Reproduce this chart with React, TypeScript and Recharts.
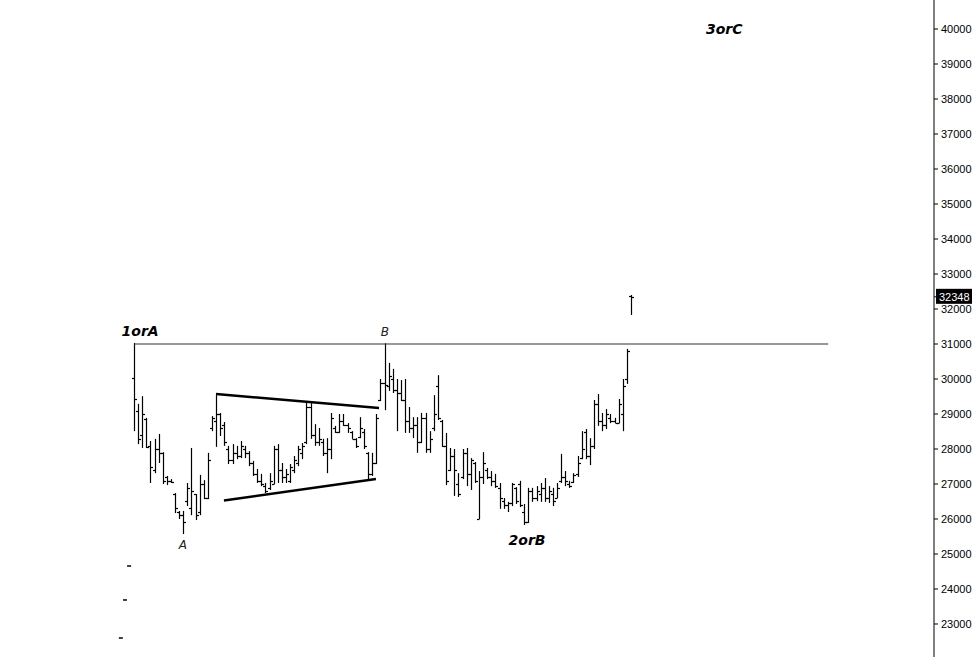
import {
  ComposedChart, Bar, Scatter, XAxis, YAxis, ReferenceLine,
} from 'recharts'

// weekly OHLC, bar index 0 = the 1orA top
const highs = [
  31030, 29290, 29510, 28890, 28230, 28290, 28430, 27910, 27230, 27140,
  26740, 26230, 26230, 27030, 28030, 26710, 27260, 27110, 27890, 28940,
  29540, 29030, 28770, 28090, 28140, 28090, 28230, 28090, 27940, 27660,
  27430, 27290, 27030, 27310, 28090, 28140, 27600, 27430, 27570, 27800,
  28090, 28170, 29340, 29310, 28710, 28600, 28290, 28310, 29030, 28660,
  29000, 29000, 28740, 28510, 28310, 28910, 28570, 27910, 27890, 29000,
  30000, 31020, 30460, 30290, 30000, 29970, 30000, 29200, 28910, 28910,
  29030, 29030, 28510, 29540, 30110, 28830, 28460, 28030, 28000, 27310,
  28000, 28030, 27740, 27630, 27370, 27910, 27460, 27370, 27290, 27030,
  26600, 26490, 27030, 26910, 27090, 26430, 26890, 26890, 26940, 27030,
  27170, 26940, 26890, 27030, 27860, 27370, 27090, 27310, 27800, 28510,
  28570, 28310, 29400, 29570, 29030, 29140, 29000, 28890, 29430, 30000,
  30860, 32400,
]
const lows = [
  28510, 28140, 28030, 28030, 27030, 27310, 27600, 27000, 26970, 27030,
  26170, 26000, 25570, 26370, 26110, 25970, 26110, 26570, 26570, 28510,
  28060, 28370, 28090, 27570, 27570, 27710, 27740, 27740, 27510, 27230,
  27030, 26940, 26740, 26830, 27000, 27030, 27030, 27030, 27030, 27310,
  27510, 27710, 28140, 28290, 28090, 28090, 27800, 27310, 27710, 28460,
  28460, 28660, 28460, 28290, 28030, 28310, 28000, 27090, 27230, 27570,
  29370, 29110, 29660, 29600, 28510, 29370, 28460, 28460, 28310, 27890,
  28170, 27890, 27890, 28510, 28830, 28060, 26970, 27370, 26660, 26630,
  27140, 26940, 26830, 27030, 26000, 27000, 27140, 26940, 26890, 26290,
  26290, 26200, 26370, 26430, 26340, 25830, 25890, 26490, 26510, 26490,
  26490, 26460, 26370, 26600, 27030, 26940, 26890, 27030, 27200, 27710,
  27710, 27540, 28000, 28660, 28510, 28570, 28740, 28740, 28740, 28510,
  29860, 31830,
]
const opens = [
  30030, 29100, 28400, 28850, 28100, 27400, 28000, 27900, 27200, 27100,
  26700, 26200, 26100, 26500, 26300, 26700, 26200, 27000, 26600, 28600,
  28800, 29000, 28700, 28000, 27700, 27900, 27800, 28000, 27900, 27600,
  27300, 27100, 26950, 26900, 27000, 28000, 27400, 27200, 27100, 27400,
  27600, 27900, 28200, 29200, 28400, 28200, 28200, 27900, 28000, 28600,
  28500, 28800, 28700, 28500, 28300, 28350, 28500, 27900, 27300, 27600,
  29400, 29900, 29800, 30000, 29700, 29600, 29400, 28800, 28600, 28700,
  28200, 28900, 28000, 28600, 29800, 28800, 28100, 27400, 27800, 27000,
  27200, 27900, 27300, 27600, 26000, 27200, 27400, 27200, 27100, 26900,
  26500, 26400, 26450, 26900, 27000, 26200, 25900, 26800, 26600, 26700,
  26900, 26600, 26700, 26600, 27100, 27200, 27000, 27050, 27300, 27750,
  28500, 27800, 28100, 29300, 28800, 28700, 28900, 28800, 28750, 29000,
  30000, 32380,
]
const closes = [
  29430, 28300, 29000, 28050, 27500, 28000, 27900, 27100, 27100, 27050,
  26300, 26100, 25900, 26900, 26800, 26100, 27000, 26600, 27700, 28900,
  29000, 28600, 28200, 27700, 27900, 27800, 28100, 27900, 27600, 27300,
  27100, 27000, 26800, 27100, 28000, 27400, 27200, 27300, 27500, 27700,
  28000, 28100, 29200, 28400, 28200, 28300, 27900, 28000, 28900, 28500,
  28800, 28700, 28600, 28300, 28100, 28600, 28100, 27300, 27600, 28900,
  29900, 29830, 30100, 29700, 29600, 29400, 28800, 28600, 28700, 28200,
  28900, 28000, 28300, 29000, 28900, 28100, 27100, 27800, 27400, 26700,
  27900, 27300, 27700, 27100, 27200, 27600, 27200, 27100, 26950, 26600,
  26400, 26450, 27000, 26500, 26400, 25900, 26800, 26600, 26800, 26900,
  26600, 26800, 26500, 26900, 27200, 27100, 26950, 27250, 27600, 28000,
  27800, 28100, 29300, 28800, 28700, 29000, 28800, 28750, 29300, 29800,
  30800, 32348,
]

const priceTicks = [
  23000, 24000, 25000, 26000, 27000, 28000, 29000, 30000, 31000,
  32000, 33000, 34000, 35000, 36000, 37000, 38000, 39000, 40000,
]
const lastPrice = 32348
const neckline = 31000

// wave labels
const noteText = ['1orA', 'B', 'A', '2orB', '3orC']
const noteX = [1.5, 61.1, 11.9, 95.7, 143.7]
const noteY = [31370, 31340, 25257, 25400, 40000]
const noteBold = [true, false, false, true, true]

// stray ticks left of the first bar
const stubX = [-1.2, -2.2, -3.2]
const stubY = [24657, 23686, 22600]

const rows = highs.map((h, i) => ({
  i, range: [lows[i], h], high: h, low: lows[i], open: opens[i], close: closes[i],
}))
const notes = noteText.map((t, k) => ({ i: noteX[k], y: noteY[k], text: t, bold: noteBold[k] }))
const stubs = stubX.map((x, k) => ({ i: x, y: stubY[k] }))

function OhlcBar(props: any) {
  const { x, y, width, height, payload } = props
  const top = Math.min(y, y + height)
  const bot = Math.max(y, y + height)
  const span = payload.high - payload.low || 1
  const cx = Math.round(x + width / 2) + 0.5
  const at = (v: number) => Math.round(top + ((payload.high - v) / span) * (bot - top)) + 0.5
  return (
    <g stroke="#000" strokeWidth={1.2}>
      <line x1={cx} x2={cx} y1={top} y2={bot} />
      <line x1={cx - 2.5} x2={cx} y1={at(payload.open)} y2={at(payload.open)} />
      <line x1={cx} x2={cx + 2.5} y1={at(payload.close)} y2={at(payload.close)} />
    </g>
  )
}

function Note(props: any) {
  const { cx, cy, payload } = props
  return (
    <text x={cx} y={cy} textAnchor="middle" dominantBaseline="central"
      fontFamily="DejaVu Sans" fontStyle="italic"
      fontWeight={payload.bold ? 'bold' : 'normal'}
      fontSize={payload.bold ? 14 : 12} fill={payload.bold ? '#000' : '#222'}>
      {payload.text}
    </text>
  )
}

function Stub(props: any) {
  const { cx, cy } = props
  return <line x1={cx - 2} x2={cx + 2} y1={cy} y2={cy} stroke="#000" strokeWidth={1.5} />
}

function PriceTag(props: any) {
  const vb = props.viewBox
  if (!vb) return null
  const x = vb.x + vb.width
  return (
    <g>
      <line x1={x} x2={x + 3} y1={vb.y} y2={vb.y} stroke="#000" />
      <rect x={x + 2} y={vb.y - 8} width={38} height={15} fill="#000" />
      <text x={x + 5} y={vb.y} dominantBaseline="central" fontSize={11}
        fontFamily="Liberation Sans" fill="#fff">{lastPrice}</text>
    </g>
  )
}

export default function App() {
  return (
    <div style={{ position: 'fixed', left: 0, top: 0, width: 972, height: 657, background: '#fff' }}>
      <ComposedChart width={972} height={657} data={rows}
        margin={{ top: 0, right: 0, bottom: 0, left: 0 }}>
        <XAxis dataKey="i" type="number" domain={[-32.624, 194.77]} hide allowDataOverflow />
        <YAxis orientation="right" type="number" domain={[22057, 40829]} ticks={priceTicks}
          width={38} allowDataOverflow axisLine={{ stroke: '#000' }}
          tickLine={{ stroke: '#000' }} tickSize={4} tickMargin={3}
          tick={{ fontSize: 11, fill: '#000', fontFamily: 'Liberation Sans', textAnchor: 'start' }} />
        <ReferenceLine segment={[{ x: 0, y: neckline }, { x: 169, y: neckline }]}
          stroke="#333" strokeWidth={1.2} ifOverflow="visible" />
        <ReferenceLine segment={[{ x: 19.97, y: 29571 }, { x: 59.65, y: 29171 }]}
          stroke="#000" strokeWidth={2.5} />
        <ReferenceLine segment={[{ x: 21.9, y: 26529 }, { x: 58.9, y: 27143 }]}
          stroke="#000" strokeWidth={2.5} />
        <Bar dataKey="range" barSize={4} shape={<OhlcBar />} isAnimationActive={false} />
        <Scatter data={stubs} dataKey="y" shape={<Stub />} isAnimationActive={false} />
        <Scatter data={notes} dataKey="y" shape={<Note />} isAnimationActive={false} />
        <ReferenceLine y={lastPrice} stroke="none" ifOverflow="visible" label={<PriceTag />} />
      </ComposedChart>
    </div>
  )
}
